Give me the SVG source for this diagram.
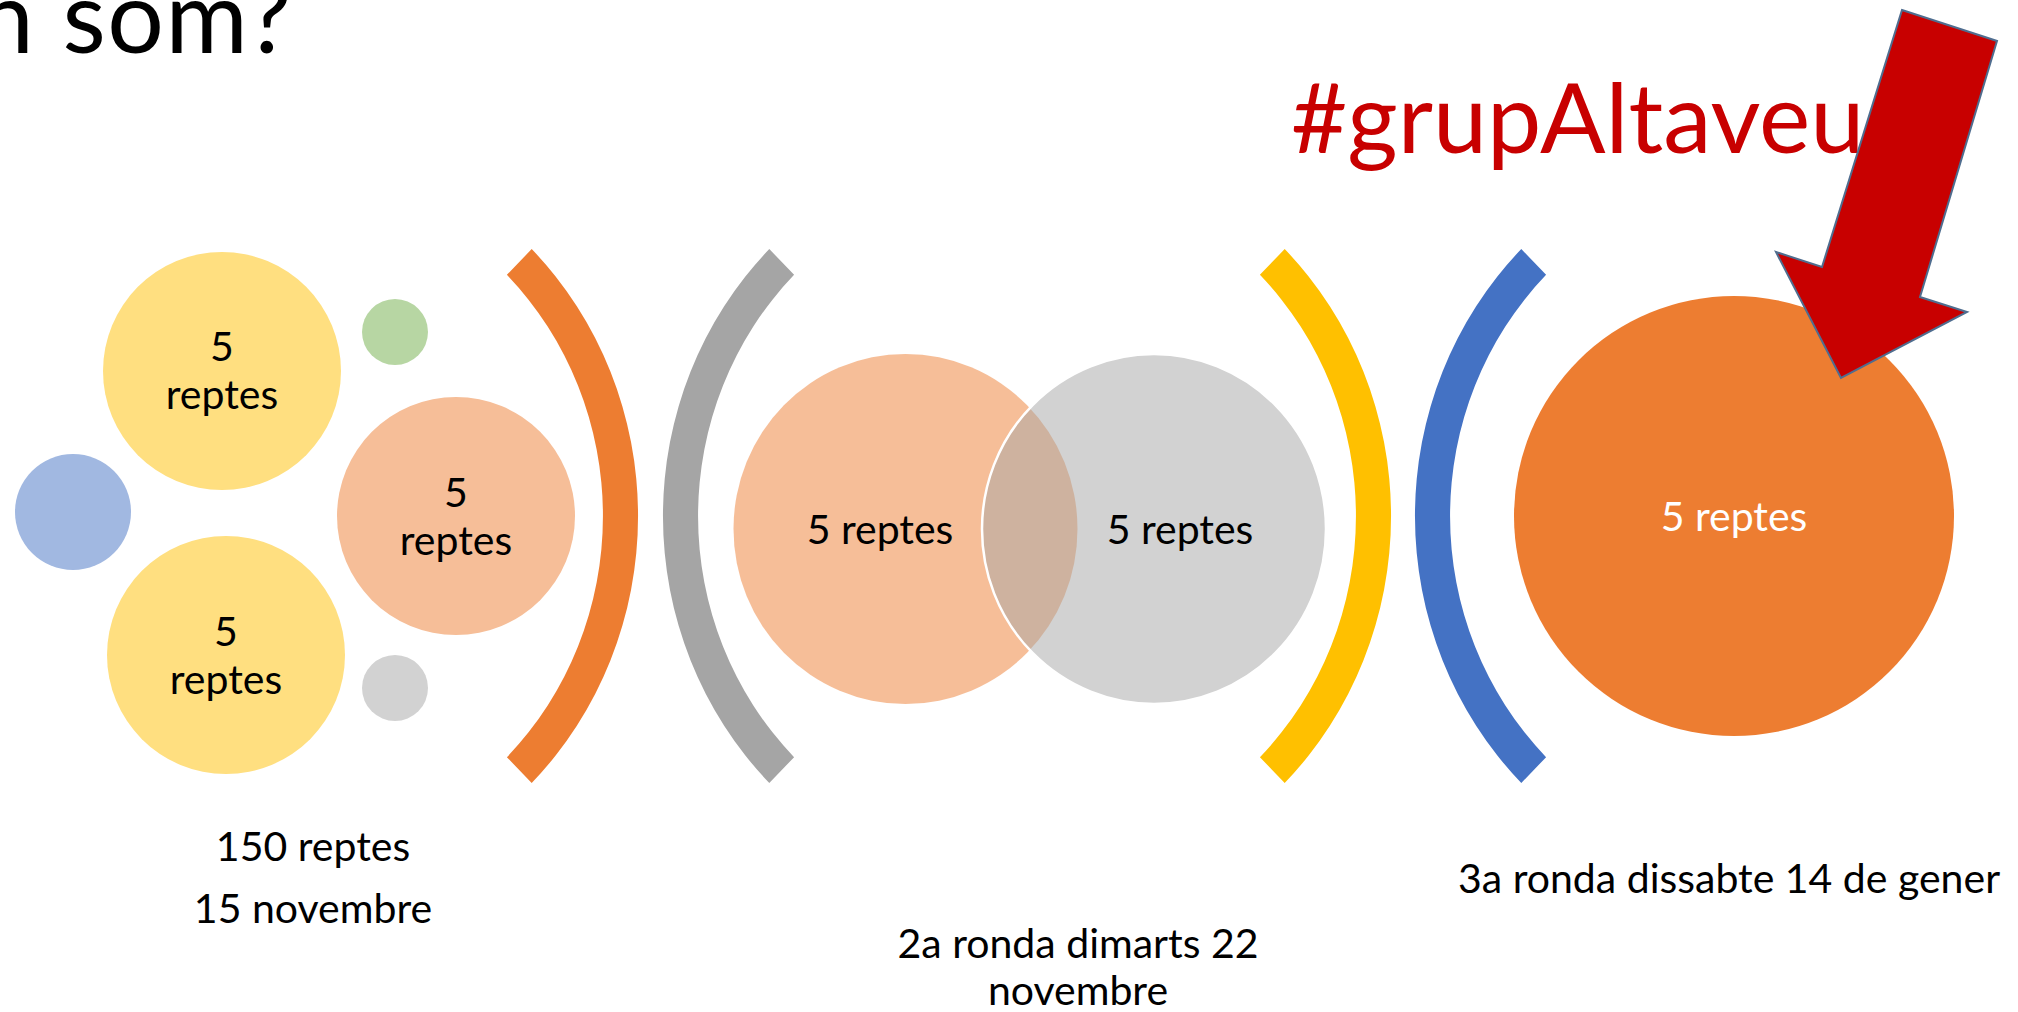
<svg xmlns="http://www.w3.org/2000/svg" width="2018" height="1012" viewBox="0 0 2018 1012">
<style>
text{font-family:Lato,"Liberation Sans",sans-serif;fill:#000}
.t{font-size:41px;text-anchor:middle}
.w{fill:#fff}
</style>
<defs>
<path id="barc" d="M256.7,-256.7 A363,363 0 0 1 256.7,256.7 L231.9,231.9 A328,328 0 0 0 231.9,-231.9 Z"/>
</defs>
<rect width="2018" height="1012" fill="#fff"/>
<g id="title"><text x="-22" y="53" style="font-size:100px;letter-spacing:1.5px">n som?</text></g>
<g id="hashtag"><text x="1291" y="153" style="font-size:97px;fill:#C80000">#grupAltaveu</text></g>

<g id="group1">
<g id="n-yellow-top"><circle cx="222" cy="371" r="119" fill="#FFDF80"/><text class="t" x="222" y="361">5</text><text class="t" x="222" y="409">reptes</text></g>
<g id="n-green"><circle cx="395" cy="332" r="33" fill="#B7D6A3"/></g>
<g id="n-blue"><circle cx="73" cy="512" r="58" fill="#A1B8E1"/></g>
<g id="n-salmon"><circle cx="456" cy="516" r="119" fill="#F6BE98"/><text class="t" x="456" y="507">5</text><text class="t" x="456" y="555">reptes</text></g>
<g id="n-yellow-bottom"><circle cx="226" cy="655" r="119" fill="#FFDF80"/><text class="t" x="226" y="646">5</text><text class="t" x="226" y="694">reptes</text></g>
<g id="n-grey-small"><circle cx="395" cy="688" r="33" fill="#D2D2D2"/></g>
</g>

<g id="arcs">
<use href="#barc" fill="#ED7D31" transform="translate(275,516) scale(1,1.04)"/>
<use href="#barc" fill="#A5A5A5" transform="translate(1026,516) scale(-1,1.04)"/>
<use href="#barc" fill="#FFC000" transform="translate(1028,516) scale(1,1.04)"/>
<use href="#barc" fill="#4472C4" transform="translate(1778,516) scale(-1,1.04)"/>
</g>

<g id="group2">
<g id="n-venn-left"><ellipse cx="905.5" cy="529" rx="172" ry="175" fill="#ED7D31" fill-opacity="0.5"/></g>
<g id="n-venn-right"><ellipse cx="1154" cy="529" rx="172" ry="175" fill="#A5A5A5" fill-opacity="0.5" stroke="#fff" stroke-width="2.5"/></g>
<text class="t" x="880" y="544">5 reptes</text>
<text class="t" x="1180" y="544">5 reptes</text>
</g>

<g id="group3">
<g id="n-big"><circle cx="1734" cy="516" r="220" fill="#ED7D31"/><text class="t w" x="1734" y="531">5 reptes</text></g>
</g>

<g id="arrow"><polygon points="1902,10 1997,41 1920,297 1967,312 1841,378 1776,252 1822,267" fill="#C80000" stroke="#4F6D8F" stroke-width="2" stroke-linejoin="miter"/></g>

<g id="labels">
<text class="t" x="313" y="861">150 reptes</text>
<text class="t" x="313" y="923">15 novembre</text>
<text class="t" x="1078" y="958">2a ronda dimarts 22</text>
<text class="t" x="1078" y="1005">novembre</text>
<text x="1458" y="893" style="font-size:41px">3a ronda dissabte 14 de gener</text>
</g>
</svg>
